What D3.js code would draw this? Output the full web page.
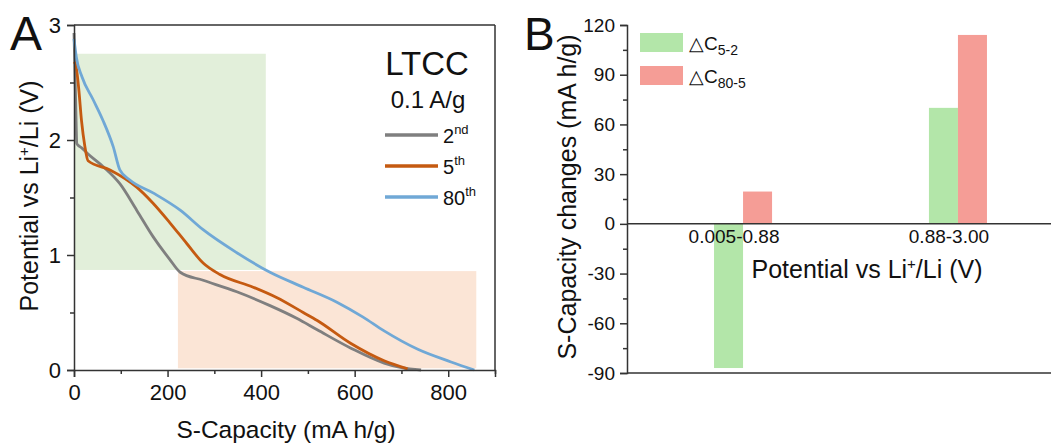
<!DOCTYPE html>
<html>
<head>
<meta charset="utf-8">
<script src="https://cdn.jsdelivr.net/npm/d3@7"></script>
<style>
  html, body { margin: 0; padding: 0; background: #fff; }
  svg { display: block; font-family: "Liberation Sans", Arial, sans-serif; }
</style>
</head>
<body>
<svg id="chart" width="1051" height="446"></svg>
<script>
// ---- Panel A: discharge profiles of LTCC at 0.1 A/g ----
const cycleNames = ["2", "5", "80"];
const cycleSuffix = ["nd", "th", "th"];
const cycleColors = ["#7f7f7f", "#c55a11", "#70a8d6"];

const capacity2nd  = [0, 2, 4, 6, 10, 17, 27, 62, 98, 134, 169, 205, 227, 276, 348, 419, 476, 520, 592, 663, 700, 742];
const potential2nd = [2.93, 2.6, 2.25, 1.97, 1.95, 1.93, 1.89, 1.77, 1.62, 1.39, 1.16, 0.96, 0.85, 0.78, 0.68, 0.56, 0.45, 0.35, 0.19, 0.06, 0.02, 0.0];

const capacity5th  = [0, 4, 10, 16, 23, 30, 77, 134, 169, 205, 241, 276, 312, 383, 433, 490, 520, 592, 663, 713];
const potential5th = [2.68, 2.65, 2.45, 2.17, 1.95, 1.82, 1.74, 1.59, 1.45, 1.28, 1.10, 0.93, 0.83, 0.72, 0.63, 0.50, 0.43, 0.23, 0.08, 0.01];

const capacity80th  = [0, 5, 17, 41, 62, 84, 98, 120, 169, 227, 276, 348, 419, 490, 562, 618, 663, 735, 806, 856];
const potential80th = [2.88, 2.72, 2.55, 2.35, 2.17, 1.94, 1.74, 1.65, 1.54, 1.39, 1.22, 1.02, 0.85, 0.72, 0.59, 0.46, 0.34, 0.18, 0.07, 0.0];

// shaded capacity/potential windows
const shadeCapacity = [[0, 410], [220, 860]];
const shadePotential = [[0.87, 2.75], [0.015, 0.86]];
const shadeColors = ["#e2efda", "#fbe5d6"];

const capacityTicks = [0, 200, 400, 600, 800];
const capacityMinor = [100, 300, 500, 700, 900];
const potentialTicks = [0, 1, 2, 3];
const potentialMinor = [0.5, 1.5, 2.5];

// ---- Panel B: capacity changes per potential window ----
const potentialRanges = ["0.005-0.88", "0.88-3.00"];
const deltaC52  = [-87, 70];
const deltaC805 = [19.5, 114];
const barColors = ["#b3e6a9", "#f59d96"];
const changeTicks = [-90, -60, -30, 0, 30, 60, 90, 120];
const changeMinor = [-75, -45, -15, 15, 45, 75, 105];

const svg = d3.select("#chart");
const axisColor = "#333";

// ================= Panel A =================
const xA = d3.scaleLinear().domain([0, 900]).range([74, 495]);
const yA = d3.scaleLinear().domain([0, 3]).range([370, 25]);

const gA = svg.append("g");

shadeCapacity.forEach((c, i) => {
  gA.append("rect")
    .attr("x", xA(c[0]) + 1)
    .attr("y", yA(shadePotential[i][1]))
    .attr("width", xA(c[1]) - xA(c[0]) - 1)
    .attr("height", yA(shadePotential[i][0]) - yA(shadePotential[i][1]))
    .attr("fill", shadeColors[i]);
});

const series = [
  { cap: capacity2nd, pot: potential2nd },
  { cap: capacity5th, pot: potential5th },
  { cap: capacity80th, pot: potential80th }
];
const line = d3.line().curve(d3.curveMonotoneX);
series.forEach((s, i) => {
  gA.append("path")
    .attr("d", line(s.cap.map((c, k) => [xA(c), yA(s.pot[k])])))
    .attr("fill", "none")
    .attr("stroke", cycleColors[i])
    .attr("stroke-width", 2.8)
    .attr("stroke-linejoin", "round");
});

// frame
gA.append("line").attr("x1", xA(0)).attr("x2", xA(900)).attr("y1", yA(3)).attr("y2", yA(3))
  .attr("stroke", axisColor).attr("stroke-width", 1.5);
gA.append("line").attr("x1", xA(900)).attr("x2", xA(900)).attr("y1", yA(3)).attr("y2", yA(0))
  .attr("stroke", axisColor).attr("stroke-width", 1.5);

function styleAxis(g, fontSize) {
  g.select(".domain").attr("stroke", axisColor).attr("stroke-width", 1.5);
  g.selectAll(".tick line").attr("stroke", axisColor).attr("stroke-width", 1.5);
  g.selectAll(".tick text").attr("fill", "#111").style("font-size", fontSize + "px")
    .style("font-family", "'Liberation Sans', Arial, sans-serif");
}

const axBottomA = gA.append("g").attr("transform", `translate(0,${yA(0)})`)
  .call(d3.axisBottom(xA).tickValues(capacityTicks).tickSize(7).tickPadding(7).tickFormat(d3.format("d")));
styleAxis(axBottomA, 22);
gA.append("g").attr("transform", `translate(0,${yA(0)})`)
  .call(d3.axisBottom(xA).tickValues(capacityMinor).tickSize(4).tickFormat(""))
  .call(g => { g.select(".domain").remove(); g.selectAll("line").attr("stroke", axisColor).attr("stroke-width", 1.5); });

const axLeftA = gA.append("g").attr("transform", `translate(${xA(0)},0)`)
  .call(d3.axisLeft(yA).tickValues(potentialTicks).tickSize(7).tickPadding(6).tickFormat(d3.format("d")));
styleAxis(axLeftA, 22);
gA.append("g").attr("transform", `translate(${xA(0)},0)`)
  .call(d3.axisLeft(yA).tickValues(potentialMinor).tickSize(4).tickFormat(""))
  .call(g => { g.select(".domain").remove(); g.selectAll("line").attr("stroke", axisColor).attr("stroke-width", 1.5); });

// axis titles
gA.append("text").attr("x", 286).attr("y", 438)
  .attr("text-anchor", "middle").style("font-size", "24.5px").attr("fill", "#111")
  .text("S-Capacity (mA h/g)");

const yTitleA = gA.append("text")
  .attr("transform", `translate(38,196) rotate(-90)`)
  .attr("text-anchor", "middle").style("font-size", "25px").attr("fill", "#111");
yTitleA.append("tspan").text("Potential vs Li");
yTitleA.append("tspan").attr("dy", -9).style("font-size", "15px").text("+");
yTitleA.append("tspan").attr("dy", 9).text("/Li (V)");

// panel letter
svg.append("text").attr("x", 10).attr("y", 50).style("font-size", "48px").attr("fill", "#111").text("A");

// legend
const legA = gA.append("g");
legA.append("text").attr("x", 427).attr("y", 75).attr("text-anchor", "middle")
  .style("font-size", "33px").attr("fill", "#111").text("LTCC");
legA.append("text").attr("x", 428).attr("y", 108).attr("text-anchor", "middle")
  .style("font-size", "24px").attr("fill", "#111").text("0.1 A/g");
cycleNames.forEach((n, i) => {
  const yy = 135 + i * 31;
  legA.append("line").attr("x1", 385).attr("x2", 438).attr("y1", yy).attr("y2", yy)
    .attr("stroke", cycleColors[i]).attr("stroke-width", 3.5);
  const t = legA.append("text").attr("x", 443).attr("y", yy + 8).style("font-size", "20px").attr("fill", "#111");
  t.append("tspan").text(n);
  t.append("tspan").attr("dy", -9).style("font-size", "13px").text(cycleSuffix[i]);
});

// ================= Panel B =================
const yB = d3.scaleLinear().domain([-90, 120]).range([373, 25]);
const xB = d3.scaleBand().domain(potentialRanges).range([627, 1074]).paddingInner(0).paddingOuter(0.04);
const barW = xB.bandwidth() * 0.135;

const gB = svg.append("g");

potentialRanges.forEach((r, i) => {
  const cx = xB(r) + xB.bandwidth() / 2;
  const vals = [deltaC52[i], deltaC805[i]];
  vals.forEach((v, j) => {
    gB.append("rect")
      .attr("x", cx - barW + j * barW)
      .attr("y", yB(Math.max(0, v)))
      .attr("width", barW)
      .attr("height", Math.abs(yB(v) - yB(0)))
      .attr("fill", barColors[j]);
  });
});

// zero line and bottom line
gB.append("line").attr("x1", 627).attr("x2", 1051).attr("y1", yB(0)).attr("y2", yB(0))
  .attr("stroke", axisColor).attr("stroke-width", 1.5);
gB.append("line").attr("x1", 627).attr("x2", 1051).attr("y1", yB(-90)).attr("y2", yB(-90))
  .attr("stroke", axisColor).attr("stroke-width", 1.5);

const axLeftB = gB.append("g").attr("transform", "translate(627,0)")
  .call(d3.axisLeft(yB).tickValues(changeTicks).tickSize(7).tickPadding(5).tickFormat(d => String(d)));
styleAxis(axLeftB, 19);
gB.append("g").attr("transform", "translate(627,0)")
  .call(d3.axisLeft(yB).tickValues(changeMinor).tickSize(4).tickFormat(""))
  .call(g => { g.select(".domain").remove(); g.selectAll("line").attr("stroke", axisColor).attr("stroke-width", 1.5); });

// category labels under the zero line
potentialRanges.forEach(r => {
  gB.append("text").attr("x", xB(r) + xB.bandwidth() / 2 - 9).attr("y", yB(0) + 19)
    .attr("text-anchor", "middle").style("font-size", "19px").attr("fill", "#111").text(r);
});

// x title
const xTitleB = gB.append("text").attr("x", 867).attr("y", 278).attr("text-anchor", "middle")
  .style("font-size", "25px").attr("fill", "#111");
xTitleB.append("tspan").text("Potential vs Li");
xTitleB.append("tspan").attr("dy", -9).style("font-size", "15px").text("+");
xTitleB.append("tspan").attr("dy", 9).text("/Li (V)");

// y title
gB.append("text").attr("transform", `translate(576,197) rotate(-90)`)
  .attr("text-anchor", "middle").style("font-size", "25px").attr("fill", "#111")
  .text("S-Capacity changes (mA h/g)");

svg.append("text").attr("x", 524).attr("y", 50).style("font-size", "46px").attr("fill", "#111").text("B");

// legend
const legendB = [["5-2"], ["80-5"]];
legendB.forEach((sub, i) => {
  const yy = 33 + i * 33;
  gB.append("rect").attr("x", 640).attr("y", yy).attr("width", 43).attr("height", 19).attr("fill", barColors[i]);
  const t = gB.append("text").attr("x", 689).attr("y", yy + 17).style("font-size", "19px").attr("fill", "#111");
  t.append("tspan").text("\u25B3C");
  t.append("tspan").attr("dy", 5).style("font-size", "14px").text(sub[0]);
});
</script>
</body>
</html>
